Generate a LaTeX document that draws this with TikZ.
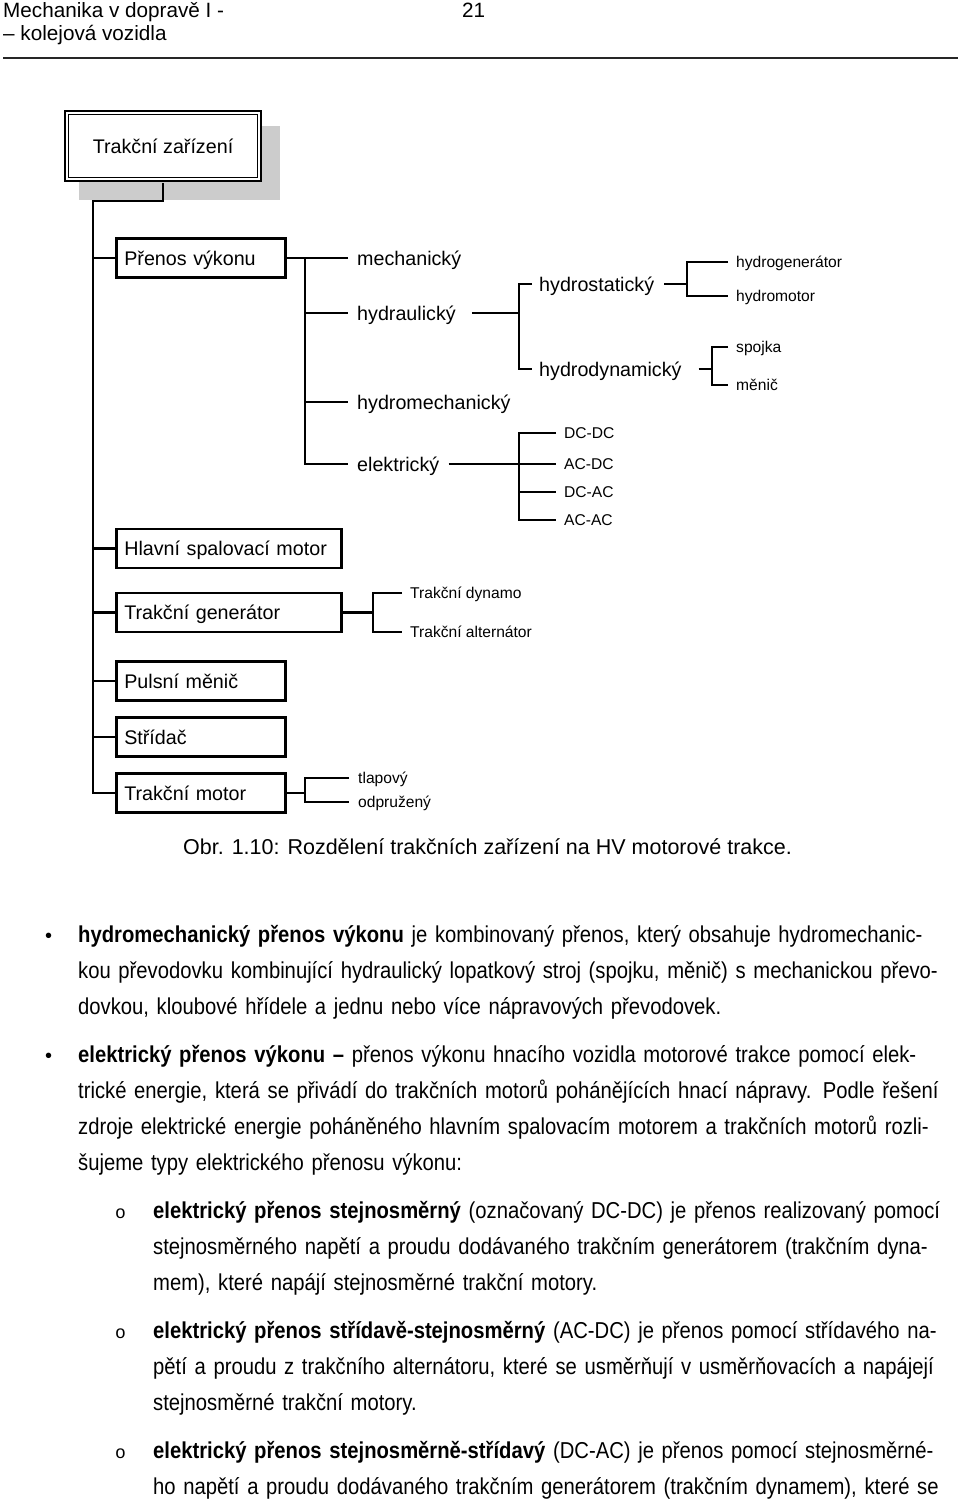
\documentclass[tikz,border=0pt]{standalone}
\usepackage{fontspec}
\setmainfont{Liberation Sans}
\newfontfamily\bodyfont[FakeStretch=0.88]{Liberation Sans}
\newfontfamily\bulfont{Liberation Mono}
\usetikzlibrary{backgrounds}
\newcommand{\jl}[2]{\makebox[#1][s]{\strut #2}}

\begin{document}
\begin{tikzpicture}[x=1pt,y=-1pt]
\tikzstyle{every node}=[font=\fontsize{19.7}{23}\selectfont]
\tikzstyle{conn}=[line width=2.8pt]
\tikzstyle{tbox}=[draw,line width=2.6pt,anchor=west,minimum height=39pt,inner xsep=8pt,align=left,text height=14pt,text depth=0pt]
\tikzstyle{lbl}=[anchor=west,inner xsep=9pt,inner ysep=0pt,text height=14pt,text depth=0pt]
\tikzstyle{slbl}=[lbl,inner xsep=8pt,text height=11.2pt,font=\fontsize{15.6}{18}\selectfont]
\tikzstyle{hdr}=[anchor=base west,inner sep=0pt,font=\fontsize{20.7}{24}\selectfont]
\tikzstyle{para}=[anchor=north west,inner sep=0pt,align=left,font=\bodyfont\fontsize{23}{36}\selectfont]
\begin{scope}[on background layer]
\fill[white] (0,0) rectangle (960,1500);
\end{scope}
\useasboundingbox (0,0) rectangle (960,1500);

\node[hdr] (hdra) at (3,17) {Mechanika v dopravě I -};
\node[hdr] (hdrb) at (3,40) {– kolejová vozidla};
\node[hdr] (pgno) at (462,17) {21};
\draw[line width=2pt,black!85] (3,58) -- (958,58);

\node[draw,double,line width=1.7pt,double distance=2pt,fill=white,minimum width=192.6pt,minimum height=66.6pt,text height=14pt,text depth=0pt] (tz) at (163,146) {Trakční zařízení};
\begin{scope}[on background layer]
\fill[gray!40] ([xshift=13.4pt,yshift=-14.4pt]tz.north west) rectangle ([xshift=19.6pt,yshift=-19.6pt]tz.south east);
\end{scope}

\node[tbox,text width=153pt] (prenos) at (115,258) {Přenos výkonu};
\node[tbox,text width=209pt] (hlavni) at (115,548.5) {Hlavní spalovací motor};
\node[tbox,text width=209pt] (gen) at (115,612.5) {Trakční generátor};
\node[tbox,text width=153pt] (puls) at (115,681) {Pulsní měnič};
\node[tbox,text width=153pt] (stridac) at (115,737) {Střídač};
\node[tbox,text width=153pt] (motor) at (115,793) {Trakční motor};

\node[lbl] (mech) at (348,258) {mechanický};
\node[lbl] (hydraul) at (348,313) {hydraulický};
\node[lbl] (hmech) at (348,402) {hydromechanický};
\node[lbl] (elek) at (348,464) {elektrický};
\node[lbl,inner xsep=7pt] (hstat) at (532,284) {hydrostatický};
\node[lbl,inner xsep=7pt] (hdyn) at (532,369) {hydrodynamický};
\node[slbl] (hgen) at (728,262) {hydrogenerátor};
\node[slbl] (hmot) at (728,296) {hydromotor};
\node[slbl] (spoj) at (728,347) {spojka};
\node[slbl] (menic) at (728,385) {měnič};
\node[slbl] (dcdc) at (556,433) {DC-DC};
\node[slbl] (acdc) at (556,464) {AC-DC};
\node[slbl] (dcac) at (556,492) {DC-AC};
\node[slbl] (acac) at (556,520) {AC-AC};
\node[slbl] (dyn) at (402,593) {Trakční dynamo};
\node[slbl] (alt) at (402,632) {Trakční alternátor};
\node[slbl,inner xsep=9pt] (tlap) at (349,778) {tlapový};
\node[slbl,inner xsep=9pt] (odpr) at (349,802) {odpružený};

\coordinate (sp) at (93,201);
\coordinate (b1) at (305,0);
\coordinate (b2) at (519,0);
\coordinate (b3) at (687,0);
\coordinate (b4) at (712,0);
\coordinate (b6) at (373,0);

\draw[conn] ([yshift=-2.6pt]tz.south) |- (sp) -- (motor.west -| sp) -- (motor.west);
\foreach \n in {prenos,hlavni,gen,puls,stridac}
  \draw[conn] (\n.west -| sp) -- (\n.west);

\draw[conn] (prenos.east) -- (prenos.east -| b1);
\draw[conn] (mech.west) -| (elek.west -| b1) -- (elek.west);
\foreach \n in {hydraul,hmech}
  \draw[conn] (\n.west -| b1) -- (\n.west);

\draw[conn] ([xshift=7pt]hydraul.east) -- (hydraul.east -| b2);
\draw[conn] (hstat.west) -| (hdyn.west -| b2) -- (hdyn.west);
\draw[conn] ([xshift=3pt]hstat.east) -- (hstat.east -| b3);
\draw[conn] (hgen.west) -| (hmot.west -| b3) -- (hmot.west);
\draw[conn] ([xshift=10pt]hdyn.east) -- (hdyn.east -| b4);
\draw[conn] (spoj.west) -| (menic.west -| b4) -- (menic.west);

\draw[conn] (elek.east) -- (elek.east -| b2);
\draw[conn] (dcdc.west) -| (acac.west -| b2) -- (acac.west);
\foreach \n in {acdc,dcac}
  \draw[conn] (\n.west -| b2) -- (\n.west);

\draw[conn] (gen.east) -- (gen.east -| b6);
\draw[conn] (dyn.west) -| (alt.west -| b6) -- (alt.west);
\draw[conn] (motor.east) -- (motor.east -| b1);
\draw[conn] (tlap.west) -| (odpr.west -| b1) -- (odpr.west);

\node[hdr,font=\fontsize{21.5}{25}\selectfont] (cap) at (183,854) {Obr. 1.10: Rozdělení trakčních zařízení na HV motorové trakce.};

\node[hdr,font=\fontsize{20}{24}\selectfont] (bul1) at (45,942) {•};
\node[para,text width=865pt] (p1) at (78,916.8) {%
\jl{865pt}{\textbf{hydromechanický přenos výkonu} je kombinovaný přenos, který obsahuje hydromechanic-}\\
\jl{865pt}{kou převodovku kombinující hydraulický lopatkový stroj (spojku, měnič) s mechanickou převo-}\\
\strut dovkou, kloubové hřídele a jednu nebo více nápravových převodovek.};

\node[hdr,font=\fontsize{20}{24}\selectfont] (bul2) at (45,1062) {•};
\node[para,text width=865pt] (p2) at (78,1036.8) {%
\jl{865pt}{\textbf{elektrický přenos výkonu –} přenos výkonu hnacího vozidla motorové trakce pomocí elek-}\\
\jl{865pt}{trické energie, která se přivádí do trakčních motorů pohánějících hnací nápravy. Podle řešení}\\
\jl{865pt}{zdroje elektrické energie poháněného hlavním spalovacím motorem a trakčních motorů rozli-}\\
\strut šujeme typy elektrického přenosu výkonu:};

\node[hdr,font=\bulfont\fontsize{18}{22}\selectfont] (sub1) at (115,1218) {o};
\node[para,text width=790pt] (s1) at (153,1192.8) {%
\jl{790pt}{\textbf{elektrický přenos stejnosměrný} (označovaný DC-DC) je přenos realizovaný pomocí}\\
\jl{790pt}{stejnosměrného napětí a proudu dodávaného trakčním generátorem (trakčním dyna-}\\
\strut mem), které napájí stejnosměrné trakční motory.};

\node[hdr,font=\bulfont\fontsize{18}{22}\selectfont] (sub2) at (115,1338) {o};
\node[para,text width=790pt] (s2) at (153,1312.8) {%
\jl{790pt}{\textbf{elektrický přenos střídavě-stejnosměrný} (AC-DC) je přenos pomocí střídavého na-}\\
\jl{790pt}{pětí a proudu z trakčního alternátoru, které se usměrňují v usměrňovacích a napájejí}\\
\strut stejnosměrné trakční motory.};

\node[hdr,font=\bulfont\fontsize{18}{22}\selectfont] (sub3) at (115,1458) {o};
\node[para,text width=790pt] (s3) at (153,1432.8) {%
\jl{790pt}{\textbf{elektrický přenos stejnosměrně-střídavý} (DC-AC) je přenos pomocí stejnosměrné-}\\
\jl{790pt}{ho napětí a proudu dodávaného trakčním generátorem (trakčním dynamem), které se}};
\end{tikzpicture}
\end{document}
